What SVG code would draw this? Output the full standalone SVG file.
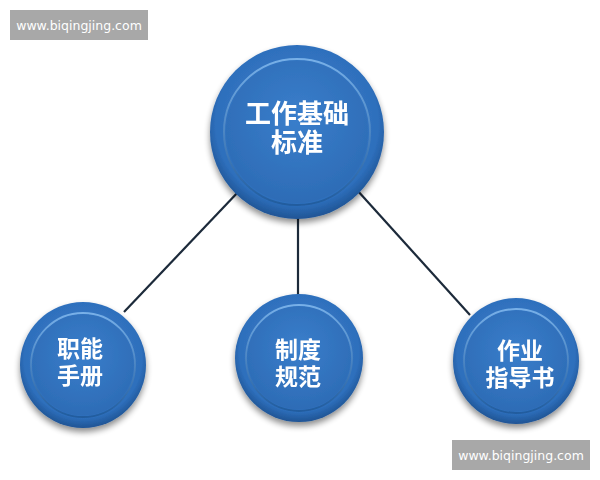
<svg xmlns="http://www.w3.org/2000/svg" width="600" height="480" viewBox="0 0 600 480">
<style>
.lbl{font-family:"Liberation Sans","Noto Sans CJK SC",sans-serif;font-weight:bold;fill:#ffffff;text-anchor:middle}
.wm{font-family:"DejaVu Sans","Liberation Sans",sans-serif;font-size:12.5px;fill:#ffffff;text-anchor:middle}
.conn{stroke:#1c2a3a;stroke-width:2.2;fill:none}
</style>
<defs>
<radialGradient id="outer" cx="50%" cy="45%" r="55%">
<stop offset="0" stop-color="#3d84cf"/>
<stop offset="0.85" stop-color="#2e6fbc"/>
<stop offset="1" stop-color="#1f5494"/>
</radialGradient>
<linearGradient id="ring" x1="0" y1="0" x2="0" y2="1">
<stop offset="0" stop-color="#78b0e8"/>
<stop offset="1" stop-color="#215c9e"/>
</linearGradient>
<radialGradient id="inner" cx="50%" cy="40%" r="60%">
<stop offset="0" stop-color="#3a7ecb"/>
<stop offset="1" stop-color="#2d6cb6"/>
</radialGradient>
<filter id="sh" x="-20%" y="-20%" width="140%" height="150%">
<feGaussianBlur in="SourceAlpha" stdDeviation="3"/>
<feOffset dx="0" dy="4"/>
<feComponentTransfer><feFuncA type="linear" slope="0.45"/></feComponentTransfer>
<feMerge><feMergeNode/><feMergeNode in="SourceGraphic"/></feMerge>
</filter>
</defs>
<rect width="600" height="480" fill="#ffffff"/>
<g id="connectors">
<line class="conn" x1="240" y1="190" x2="124" y2="312"/>
<line class="conn" x1="298" y1="215" x2="298" y2="298"/>
<line class="conn" x1="357" y1="190" x2="470" y2="315"/>
</g>
<g id="node-top" filter="url(#sh)">
<circle cx="297" cy="132" r="87" fill="url(#outer)"/>
<circle cx="297" cy="132" r="73" fill="none" stroke="url(#ring)" stroke-width="2"/>
<circle cx="297" cy="132" r="71" fill="url(#inner)"/>
<text class="lbl" x="297" y="123" font-size="26">工作基础</text>
<text class="lbl" x="297" y="152" font-size="26">标准</text>
</g>
<g id="node-left" filter="url(#sh)">
<circle cx="83" cy="365" r="63" fill="url(#outer)"/>
<circle cx="83" cy="365" r="52" fill="none" stroke="url(#ring)" stroke-width="1.8"/>
<circle cx="83" cy="365" r="50.5" fill="url(#inner)"/>
<text class="lbl" x="80" y="357" font-size="23">职能</text>
<text class="lbl" x="80" y="384" font-size="23">手册</text>
</g>
<g id="node-mid" filter="url(#sh)">
<circle cx="299" cy="358" r="64" fill="url(#outer)"/>
<circle cx="299" cy="358" r="53" fill="none" stroke="url(#ring)" stroke-width="1.8"/>
<circle cx="299" cy="358" r="51.5" fill="url(#inner)"/>
<text class="lbl" x="298" y="358" font-size="23">制度</text>
<text class="lbl" x="298" y="385" font-size="23">规范</text>
</g>
<g id="node-right" filter="url(#sh)">
<circle cx="516" cy="361" r="63" fill="url(#outer)"/>
<circle cx="516" cy="361" r="52" fill="none" stroke="url(#ring)" stroke-width="1.8"/>
<circle cx="516" cy="361" r="50.5" fill="url(#inner)"/>
<text class="lbl" x="520" y="359" font-size="23">作业</text>
<text class="lbl" x="520" y="386" font-size="23">指导书</text>
</g>
<g id="watermarks">
<rect x="10" y="10" width="138" height="30" fill="#a8a8a8"/>
<text class="wm" x="79" y="30">www.biqingjing.com</text>
<rect x="452" y="440" width="138" height="30" fill="#a8a8a8"/>
<text class="wm" x="521" y="460">www.biqingjing.com</text>
</g>
</svg>
